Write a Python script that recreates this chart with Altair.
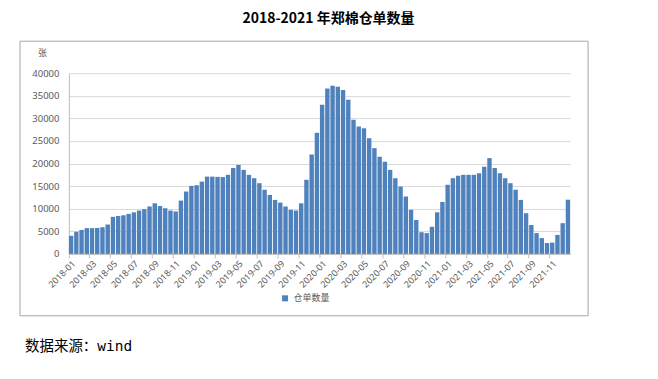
import altair as alt
import pandas as pd

# Half-month readings (first half, second half of each month), 张
years = [2018, 2019, 2020, 2021]
v2018 = [4000, 4900, 5300, 5700, 5700, 5750, 5900, 6500, 8200, 8400, 8550, 8850,
         9200, 9600, 9900, 10500, 11200, 10600, 10100, 9600, 9400, 11800, 13800, 15050]
v2019 = [15200, 16000, 17100, 17100, 17050, 17000, 17500, 19000, 19700, 18600, 17500, 16750,
         15650, 14200, 13050, 11950, 11350, 10500, 9750, 9600, 11200, 16400, 22000, 26800]
v2020 = [33000, 36600, 37200, 37000, 36300, 34100, 29700, 28200, 27800, 25600, 23400, 21500,
         20400, 18600, 16750, 14900, 12700, 9750, 7500, 4800, 4600, 6000, 9200, 11500]
v2021 = [15300, 16750, 17300, 17500, 17500, 17500, 17850, 19300, 21200, 19000, 17850, 16750,
         15650, 14200, 11950, 9000, 6400, 4600, 3500, 2400, 2500, 4200, 6800, 12000]
series_name = "仓单数量"
title_text = "2018-2021 年郑棉仓单数量"
source_text = "数据来源：wind"
y_ticks = [0, 5000, 10000, 15000, 20000, 25000, 30000, 35000, 40000]

rows = []
for y, vals in zip(years, [v2018, v2019, v2020, v2021]):
    for i, v in enumerate(vals):
        m = i // 2 + 1
        h = "a" if i % 2 == 0 else "b"
        rows.append({"period": f"{y}-{m:02d}-{h}", "value": v, "series": series_name})
df = pd.DataFrame(rows)
tick_values = [f"{y}-{m:02d}-a" for y in years for m in range(1, 13, 2)]

blue = "#4f81bd"
grey_txt = "#595959"

bars = alt.Chart(df).mark_bar().encode(
    x=alt.X("period:O", sort=None,
            scale=alt.Scale(paddingInner=0.16, paddingOuter=0),
            axis=alt.Axis(values=tick_values, labelExpr="substring(datum.value, 0, 7)",
                          bandPosition=0, labelAngle=-45, labelAlign="right",
                          labelBaseline="top", title=None, domainColor="#bfbfbf",
                          tickColor="#bfbfbf", tickSize=4, labelFontSize=9,
                          labelColor=grey_txt, labelFont="Noto Sans", grid=False,
                          labelPadding=1, labelOverlap=False)),
    y=alt.Y("value:Q", scale=alt.Scale(domain=[0, 40000], nice=False),
            axis=alt.Axis(values=y_ticks, format="d", title="张", titleAngle=0,
                          titleX=-27, titleY=-16,
                          titleFontSize=9, titleFontWeight="normal", titleColor=grey_txt,
                          titleFont="Noto Sans CJK SC", titleAlign="center",
                          ticks=False, domainColor="#bfbfbf", gridColor="#d9d9d9",
                          labelFontSize=9.5, labelColor=grey_txt, labelFont="Noto Sans",
                          labelPadding=10)),
    color=alt.Color("series:N", scale=alt.Scale(range=[blue]),
                    legend=alt.Legend(orient="none", legendX=212, legendY=221, title=None,
                                      symbolType="square", symbolSize=36, labelFontSize=9,
                                      labelColor=grey_txt, labelFont="Noto Sans CJK SC",
                                      symbolStrokeWidth=0)),
)

one = alt.Data(values=[{}])
box = alt.Chart(one).mark_rect(fill="transparent", stroke="#a6a6a6", strokeWidth=1).encode(
    x=alt.value(-49), x2=alt.value(520), y=alt.value(-32), y2=alt.value(243))
title = alt.Chart(one).mark_text(fontSize=14, fontWeight="bold", font="Noto Sans CJK SC",
                                 color="#000000", align="center", baseline="middle").encode(
    x=alt.value(260), y=alt.value(-54), text=alt.value(title_text))
source = alt.Chart(one).mark_text(fontSize=14.5, font="DejaVu Sans Mono, Noto Sans CJK SC",
                                  color="#000000", align="left", baseline="middle").encode(
    x=alt.value(-44), y=alt.value(274), text=alt.value(source_text))

chart = alt.layer(box, bars, title, source).properties(
    width=502, height=181,
    autosize=alt.AutoSizeParams(type="none"),
    padding={"left": 61, "top": 65, "right": 80, "bottom": 110},
).configure_view(stroke=None)

chart.save("out.html", embed_options={"renderer": "svg", "actions": False})
